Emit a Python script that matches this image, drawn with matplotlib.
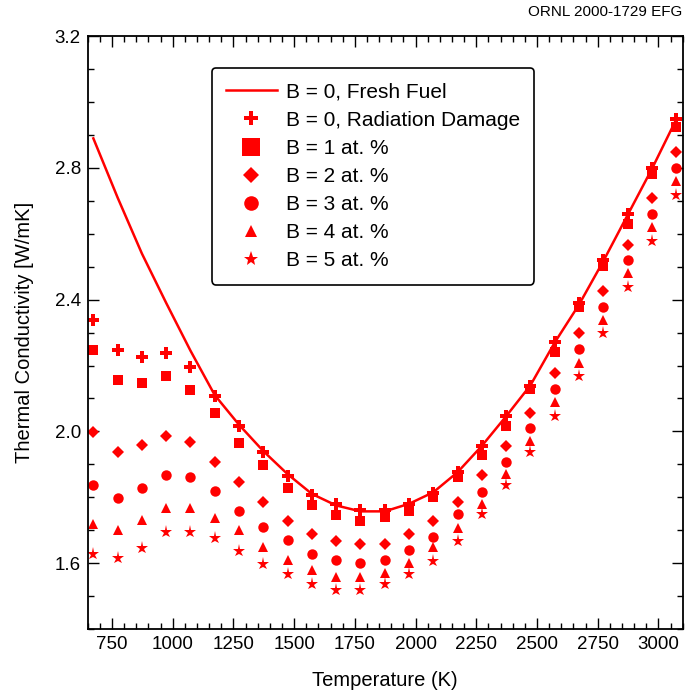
import matplotlib
matplotlib.use("Agg")
import matplotlib.pyplot as plt
from matplotlib.ticker import MultipleLocator, FormatStrFormatter

plt.rcParams["font.family"] = ["Liberation Sans", "DejaVu Sans"]

# Temperatures (K) of the calculated points, 400..2800 C
temperature = [673, 773, 873, 973, 1073, 1173, 1273, 1373, 1473, 1573, 1673, 1773, 1873,
               1973, 2073, 2173, 2273, 2373, 2473, 2573, 2673, 2773, 2873, 2973, 3073]

fresh_fuel = [2.89, 2.71, 2.54, 2.39, 2.245, 2.11, 2.02, 1.94, 1.87, 1.81, 1.775, 1.757, 1.757,
              1.78, 1.815, 1.876, 1.956, 2.046, 2.14, 2.27, 2.385, 2.517, 2.657, 2.797, 2.947]
b0_damage = [2.338, 2.247, 2.227, 2.237, 2.197, 2.108, 2.017, 1.938, 1.865, 1.807, 1.779, 1.760, 1.760,
             1.779, 1.813, 1.877, 1.956, 2.047, 2.138, 2.270, 2.390, 2.519, 2.660, 2.800, 2.950]
b1 = [2.247, 2.157, 2.147, 2.167, 2.126, 2.057, 1.966, 1.897, 1.827, 1.776, 1.747, 1.728, 1.740,
      1.758, 1.801, 1.862, 1.928, 2.017, 2.128, 2.240, 2.377, 2.503, 2.630, 2.782, 2.924]
b2 = [1.999, 1.938, 1.958, 1.986, 1.968, 1.907, 1.847, 1.786, 1.728, 1.687, 1.667, 1.657, 1.657,
      1.687, 1.728, 1.786, 1.867, 1.956, 2.057, 2.177, 2.299, 2.425, 2.567, 2.708, 2.848]
b3 = [1.837, 1.799, 1.829, 1.868, 1.860, 1.819, 1.758, 1.709, 1.669, 1.629, 1.609, 1.601, 1.609,
      1.639, 1.679, 1.748, 1.817, 1.908, 2.010, 2.128, 2.250, 2.379, 2.521, 2.661, 2.799]
b4 = [1.720, 1.699, 1.730, 1.768, 1.768, 1.738, 1.699, 1.649, 1.608, 1.579, 1.558, 1.558, 1.569,
      1.599, 1.649, 1.707, 1.779, 1.870, 1.971, 2.088, 2.209, 2.338, 2.480, 2.620, 2.759]
b5 = [1.628, 1.616, 1.647, 1.695, 1.695, 1.677, 1.637, 1.596, 1.567, 1.537, 1.517, 1.517, 1.535,
      1.566, 1.606, 1.667, 1.748, 1.837, 1.938, 2.047, 2.169, 2.298, 2.440, 2.579, 2.718]

RED = "#ff0000"

fig = plt.figure(figsize=(6.91, 6.98), dpi=100)
ax = fig.add_axes([0.127, 0.099, 0.861, 0.849])

ax.plot(temperature, fresh_fuel, color=RED, lw=1.8, label="B = 0, Fresh Fuel")

# burnup series: (values, marker, plot size, legend size, label)
series = [
    (b0_damage, "P", 9, 10, "B = 0, Radiation Damage"),
    (b1, "s", 7.5, 12.5, "B = 1 at. %"),
    (b2, "D", 6, 8, "B = 2 at. %"),
    (b3, "o", 7.5, 10.5, "B = 3 at. %"),
    (b4, "^", 7.5, 8.5, "B = 4 at. %"),
    (b5, "*", 9.5, 11, "B = 5 at. %"),
]
for vals, mk, ms, _, lab in series:
    ax.plot(temperature, vals, ls="none", marker=mk, ms=ms, color=RED,
            markeredgewidth=0, label=lab)

ax.set_xlim(650, 3100)
ax.set_ylim(1.4, 3.2)
ax.xaxis.set_major_locator(MultipleLocator(250))
ax.xaxis.set_minor_locator(MultipleLocator(50))
ax.yaxis.set_major_locator(MultipleLocator(0.4))
ax.yaxis.set_minor_locator(MultipleLocator(0.1))
ax.yaxis.set_major_formatter(FormatStrFormatter("%.1f"))

ax.tick_params(which="both", direction="in", top=True, right=True, labelsize=13.5, width=1)
ax.tick_params(which="major", length=8, pad=5)
ax.tick_params(which="minor", length=4.5)
for sp in ax.spines.values():
    sp.set_linewidth(1.3)

ax.set_xlabel("Temperature (K)", fontsize=14.5)
ax.set_ylabel("Thermal Conductivity [W/mK]", fontsize=14.5)
ax.xaxis.set_label_coords(0.5, -0.071)
ax.yaxis.set_label_coords(-0.091, 0.5)

leg = ax.legend(loc="upper left", bbox_to_anchor=(0.208, 0.946), borderaxespad=0,
                fontsize=15, frameon=True, fancybox=True, edgecolor="black", framealpha=1,
                handlelength=2.45, handletextpad=0.43, labelspacing=0.44, borderpad=0.68)
leg.get_frame().set_linewidth(1.2)
for h, (_, _, _, lms, _) in zip(leg.legend_handles[1:], series):
    h.set_markersize(lms)

fig.text(0.988, 0.983, "ORNL 2000-1729 EFG", ha="right", va="center", fontsize=11)

fig.savefig("out.png", dpi=100)
